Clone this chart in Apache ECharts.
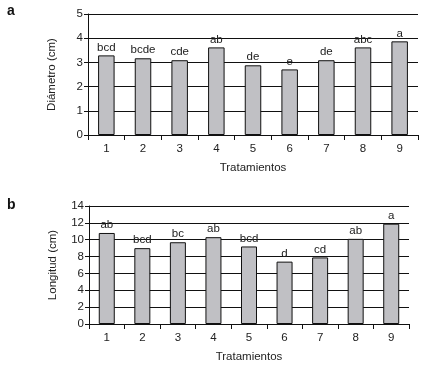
<!DOCTYPE html>
<html><head><meta charset="utf-8">
<script src="https://cdn.jsdelivr.net/npm/echarts@6/dist/echarts.min.js"></script>
<style>html,body{margin:0;padding:0;background:#fff}#c{width:425px;height:378px}</style>
</head><body><div id="c"></div>
<script>
const categories = ['1','2','3','4','5','6','7','8','9'];
const diametro = [3.29, 3.17, 3.09, 3.62, 2.88, 2.71, 3.09, 3.62, 3.87];
const diametroLetters = ['bcd','bcde','cde','ab','de','e','de','abc','a'];
const longitud = [10.8, 9.0, 9.7, 10.3, 9.2, 7.4, 7.9, 10.1, 11.9];
const longitudLetters = ['ab','bcd','bc','ab','bcd','d','cd','ab','a'];

const font = 'Liberation Sans, Arial, sans-serif';
const chart = echarts.init(document.getElementById('c'));

function xAxis(gi){
  return {type:'category', gridIndex:gi, data:categories,
    name:'Tratamientos', nameLocation:'middle', nameGap:27,
    nameTextStyle:{color:'#222', fontFamily:font, fontSize:11.5},
    axisLine:{lineStyle:{color:'#111', width:1}},
    axisTick:{show:true, length:5, lineStyle:{color:'#111'}},
    axisLabel:{color:'#222', fontFamily:font, fontSize:11.5, margin:8}};
}
function yAxis(gi, max, interval, name){
  return {type:'value', gridIndex:gi, min:0, max:max, interval:interval,
    name:name, nameLocation:'middle', nameGap:30,
    nameTextStyle:{color:'#222', fontFamily:font, fontSize:11.5},
    axisLine:{show:true, lineStyle:{color:'#111', width:1}},
    axisTick:{show:true, length:4, lineStyle:{color:'#111'}},
    splitLine:{show:true, lineStyle:{color:'#111', width:1}},
    axisLabel:{color:'#222', fontFamily:font, fontSize:11.5, margin:5}};
}
function bars(gi, data, letters){
  return {type:'bar', xAxisIndex:gi, yAxisIndex:gi, data:data, barWidth:'45%', z:5,
    itemStyle:{color:'#c0c0c4', borderColor:'#111', borderWidth:1},
    label:{show:true, position:'top', distance:2, color:'#222', fontFamily:font, fontSize:11.5,
      formatter:p=>letters[p.dataIndex]}};
}

chart.setOption({
  animation:false,
  grid:[
    {left:88, top:14, width:330, height:121},
    {left:89, top:206, width:320, height:118}
  ],
  title:[
    {text:'a', left:2, top:-1, textStyle:{fontFamily:font, fontSize:14, fontWeight:'bold', color:'#111'}},
    {text:'b', left:2, top:193, textStyle:{fontFamily:font, fontSize:14, fontWeight:'bold', color:'#111'}}
  ],
  xAxis:[xAxis(0), xAxis(1)],
  yAxis:[yAxis(0,5,1,'Diámetro (cm)'), yAxis(1,14,2,'Longitud (cm)')],
  series:[bars(0, diametro, diametroLetters), bars(1, longitud, longitudLetters)]
});
</script></body></html>
